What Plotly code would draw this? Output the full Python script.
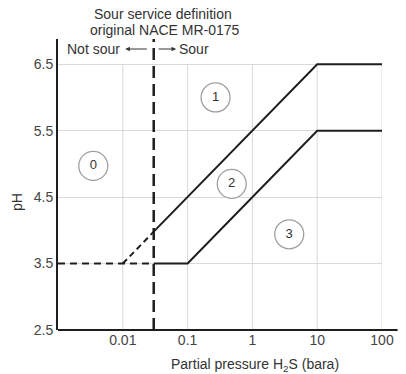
import plotly.graph_objects as go

# ---- data ----
x_ticks = [0.01, 0.1, 1, 10, 100]
x_ticktext = ["0.01", "0.1", "1", "10", "100"]
y_ticks = [2.5, 3.5, 4.5, 5.5, 6.5]
y_ticktext = ["2.5", "3.5", "4.5", "5.5", "6.5"]

upper_dash_x = [0.01, 0.03]
upper_dash_y = [3.5, 3.98]
upper_solid_x = [0.03, 10, 100]
upper_solid_y = [3.98, 6.5, 6.5]

lower_dash_x = [0.001, 0.03]
lower_dash_y = [3.5, 3.5]
lower_solid_x = [0.03, 0.1, 10, 100]
lower_solid_y = [3.5, 3.5, 5.5, 5.5]

sour_limit_x = [0.03, 0.03]
sour_limit_y = [2.5, 6.88]

region_labels = ["0", "1", "2", "3"]
region_x = [0.0035, 0.27, 0.48, 3.7]
region_y = [4.97, 6.0, 4.7, 3.94]

# ---- figure ----
W, H = 406, 374
L, R, T, B = 58, 16, 39, 44
pw, ph = W - L - R, H - T - B

def px(xp):
    return (xp - L) / pw

def py(yp):
    return (H - B - yp) / ph

LINE = "#1e1e1e"
fig = go.Figure()

# vertical gridlines
gx, gy = [], []
for v in x_ticks:
    gx += [v, v, None]
    gy += [2.5, 6.5, None]
fig.add_trace(go.Scatter(x=gx, y=gy, mode="lines",
                         line=dict(color="#d9d9d9", width=1), hoverinfo="skip"))

fig.add_trace(go.Scatter(x=sour_limit_x, y=sour_limit_y, mode="lines",
                         line=dict(color=LINE, width=2.5, dash="12px,6px")))
fig.add_trace(go.Scatter(x=upper_dash_x, y=upper_dash_y, mode="lines",
                         line=dict(color=LINE, width=2, dash="6px,4px")))
fig.add_trace(go.Scatter(x=lower_dash_x, y=lower_dash_y, mode="lines",
                         line=dict(color=LINE, width=2, dash="7px,5px")))
fig.add_trace(go.Scatter(x=upper_solid_x, y=upper_solid_y, mode="lines",
                         line=dict(color=LINE, width=2)))
fig.add_trace(go.Scatter(x=lower_solid_x, y=lower_solid_y, mode="lines",
                         line=dict(color=LINE, width=2)))

fig.add_trace(go.Scatter(x=region_x, y=region_y, mode="markers+text",
                         text=region_labels, textposition="middle center",
                         textfont=dict(family="Liberation Sans, Arial", size=13, color="#333"),
                         marker=dict(size=29, color="white",
                                     line=dict(color="#a0a0a0", width=1.3))))

FONT = dict(family="Liberation Sans, Arial", size=14, color="#333")

fig.update_layout(
    width=W, height=H, margin=dict(l=L, r=R, t=T, b=B),
    paper_bgcolor="white", plot_bgcolor="white", showlegend=False,
    font=FONT,
    xaxis=dict(type="log", range=[-3, 2], tickvals=x_ticks, ticktext=x_ticktext,
               showgrid=False, zeroline=False, showline=False, ticks="",
               tickfont=dict(family="Liberation Sans, Arial", size=14, color="#444")),
    yaxis=dict(range=[2.5, 6.88], tickvals=y_ticks, ticktext=y_ticktext,
               showgrid=True, gridcolor="#d9d9d9", gridwidth=1, zeroline=False,
               showline=True, linecolor=LINE, linewidth=2, ticks="",
               tickfont=dict(family="Liberation Sans, Arial", size=14, color="#444")),
)

# bottom axis line extending past the plot to the right
fig.add_shape(type="line", xref="paper", yref="paper", x0=0, x1=px(406), y0=0, y1=0,
              line=dict(color=LINE, width=2))

ann = [
    dict(text="Sour service definition", x=px(166), y=py(14)),
    dict(text="original NACE MR-0175", x=px(168), y=py(30)),
    dict(text="Not sour", x=px(94), y=py(49)),
    dict(text="Sour", x=px(197), y=py(49)),
    dict(text="pH", x=px(16), y=py(202), textangle=-90),
    dict(text="Partial pressure H<sub>2</sub>S (bara)", x=px(260), y=py(365)),
]
for a in ann:
    fig.add_annotation(xref="paper", yref="paper", showarrow=False,
                       xanchor="center", yanchor="middle", font=FONT, **a)

fig.add_annotation(xref="paper", yref="paper", x=px(127), y=py(49), text="",
                   showarrow=True, ax=23, ay=0, arrowhead=2, arrowsize=0.9,
                   arrowwidth=1, arrowcolor="#333")
fig.add_annotation(xref="paper", yref="paper", x=px(179), y=py(49), text="",
                   showarrow=True, ax=-19, ay=0, arrowhead=2, arrowsize=0.9,
                   arrowwidth=1, arrowcolor="#333")

fig.write_html("out.html")
